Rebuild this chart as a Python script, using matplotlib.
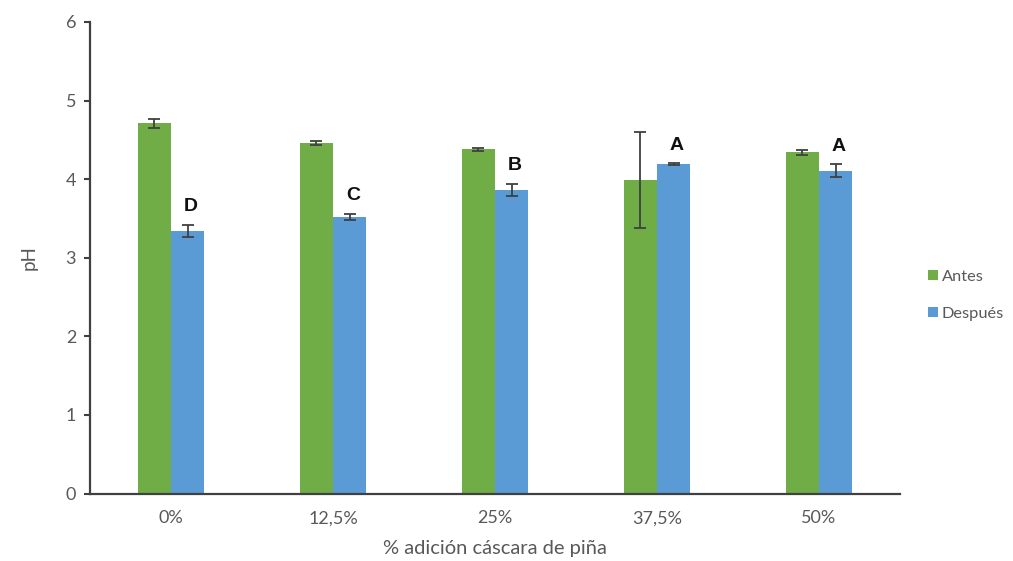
import matplotlib.pyplot as plt
import numpy as np

# pH before / after, by % pineapple peel added
categorias = ['0%', '12,5%', '25%', '37,5%', '50%']
antes = [4.71, 4.46, 4.38, 3.99, 4.34]
antes_err = [0.06, 0.03, 0.02, 0.61, 0.03]
despues = [3.34, 3.52, 3.86, 4.19, 4.11]
despues_err = [0.08, 0.04, 0.08, 0.01, 0.08]
letras = ['D', 'C', 'B', 'A', 'A']

verde = '#70AD47'
azul = '#5B9BD5'
gris = '#595959'

plt.rcParams['font.family'] = ['Lato', 'DejaVu Sans']

fig = plt.figure(figsize=(10.13, 5.61), dpi=100)
ax = fig.add_axes([90 / 1013, 1 - 493.5 / 561, 810 / 1013, 471.5 / 561])

x = np.arange(len(categorias))
w = 0.205
ekw = dict(ecolor='#404040', elinewidth=1.3, capsize=4, capthick=1.3)
ax.bar(x - w / 2, antes, w, color=verde, label='Antes',
       yerr=antes_err, error_kw=ekw)
ax.bar(x + w / 2, despues, w, color=azul, label='Después',
       yerr=despues_err, error_kw=ekw)

# significance letters over the "Después" bars
for i, l in enumerate(letras):
    ax.annotate(l, (x[i] + w / 2 + 0.02, despues[i] + despues_err[i]),
                xytext=(0, 7), textcoords='offset points',
                ha='center', va='bottom', fontsize=14, fontweight='bold',
                family='Liberation Sans', color='#111111')

ax.set_xlim(-0.5, len(categorias) - 0.5)
ax.set_ylim(0, 6)
ax.set_yticks(range(7))
ax.set_xticks(x)
ax.set_xticklabels(categorias)
ax.tick_params(axis='x', length=0, pad=12, labelsize=13, labelcolor=gris)
ax.tick_params(axis='y', length=4, width=1.5, color='#404040',
               pad=6, labelsize=13, labelcolor=gris)
for s in ['top', 'right']:
    ax.spines[s].set_visible(False)
for s in ['left', 'bottom']:
    ax.spines[s].set_color('#404040')
    ax.spines[s].set_linewidth(1.6)

ax.set_ylabel('pH', fontsize=13.5, color=gris, labelpad=20)
ax.set_xlabel('% adición cáscara de piña', fontsize=14.5, color=gris, labelpad=10)

ax.legend(loc='center left', bbox_to_anchor=(1.02, 0.42), frameon=False,
          fontsize=11.8, labelcolor=gris, handlelength=0.6, handleheight=0.6,
          handletextpad=0.25, labelspacing=1.4, borderpad=0.2)

fig.savefig('out.png', dpi=100)
